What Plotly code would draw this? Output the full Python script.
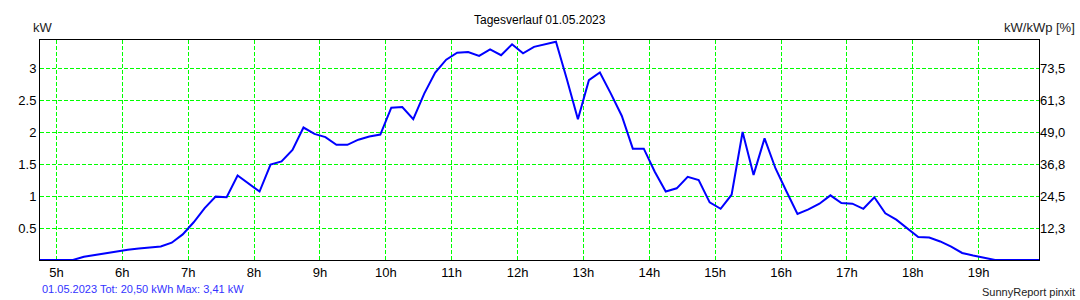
import plotly.graph_objects as go

# ---- data -------------------------------------------------------------
times = ["04:45", "04:55",
         "05:05", "05:15", "05:25", "05:35", "05:45", "05:55",
         "06:05", "06:15", "06:25", "06:35", "06:45", "06:55",
         "07:05", "07:15", "07:25", "07:35", "07:45", "07:55",
         "08:05", "08:15", "08:25", "08:35", "08:45", "08:55",
         "09:05", "09:15", "09:25", "09:35", "09:45", "09:55",
         "10:05", "10:15", "10:25", "10:35", "10:45", "10:55",
         "11:05", "11:15", "11:25", "11:35", "11:45", "11:55",
         "12:05", "12:15", "12:25", "12:35", "12:45", "12:55",
         "13:05", "13:15", "13:25", "13:35", "13:45", "13:55",
         "14:05", "14:15", "14:25", "14:35", "14:45", "14:55",
         "15:05", "15:15", "15:25", "15:35", "15:45", "15:55",
         "16:05", "16:15", "16:25", "16:35", "16:45", "16:55",
         "17:05", "17:15", "17:25", "17:35", "17:45", "17:55",
         "18:05", "18:15", "18:25", "18:35", "18:45", "18:55",
         "19:05", "19:15", "19:25", "19:35", "19:45", "19:55"]

power_kw = [0, 0,
            0, 0, 0.05, 0.08, 0.11, 0.13,
            0.16, 0.18, 0.20, 0.21, 0.27, 0.40,
            0.59, 0.81, 0.99, 0.98, 1.32, 1.20,
            1.07, 1.49, 1.54, 1.72, 2.07, 1.97,
            1.92, 1.80, 1.80, 1.88, 1.93, 1.96,
            2.38, 2.39, 2.20, 2.60, 2.93, 3.13,
            3.24, 3.25, 3.19, 3.29, 3.20, 3.37,
            3.23, 3.33, 3.37, 3.41, 2.82, 2.20,
            2.81, 2.93, 2.60, 2.25, 1.74, 1.74,
            1.38, 1.07, 1.12, 1.30, 1.25, 0.90,
            0.80, 1.02, 2.00, 1.33, 1.90, 1.43,
            1.07, 0.72, 0.79, 0.88, 1.01, 0.89,
            0.88, 0.80, 0.98, 0.73, 0.63, 0.49,
            0.36, 0.35, 0.29, 0.21, 0.11, 0.07,
            0.03, 0, 0, 0, 0, 0]

hour_ticks = [5, 6, 7, 8, 9, 10, 11, 12, 13, 14, 15, 16, 17, 18, 19]
hour_labels = ["5h", "6h", "7h", "8h", "9h", "10h", "11h", "12h", "13h",
               "14h", "15h", "16h", "17h", "18h", "19h"]
kw_ticks = [0.5, 1, 1.5, 2, 2.5, 3]
kw_labels = ["0.5", "1", "1.5", "2", "2.5", "3"]
pct_ticks = [12.25, 24.5, 36.75, 49.0, 61.25, 73.5]
pct_labels = ["12,3", "24,5", "36,8", "49,0", "61,3", "73,5"]
pct_per_kw = 24.5

x_range = [4.75, 19.9167]
y_range = [0, 3.4375]

title_text = "Tagesverlauf 01.05.2023"
footer_left = "01.05.2023 Tot: 20,50 kWh Max: 3,41 kW"
footer_right = "SunnyReport pinxit"

# ---- figure -----------------------------------------------------------
hours = [int(t[:2]) + int(t[3:]) / 60 for t in times]

FONT = "Arial, Liberation Sans, sans-serif"
W, H = 1080, 300
L, R, T, B = 40, 41, 40, 40
pw, ph = W - L - R, H - T - B


def px(x):
    return (x - L) / pw


def py(y):
    return (H - B - y) / ph


fig = go.Figure()
fig.add_trace(go.Scatter(x=hours, y=power_kw, mode="lines",
                         line=dict(color="#0000ff", width=2),
                         hoverinfo="skip", showlegend=False))
fig.add_trace(go.Scatter(x=[x_range[0]], y=[0], yaxis="y2", mode="markers",
                         marker=dict(opacity=0), hoverinfo="skip",
                         showlegend=False))

grid = dict(showgrid=True, gridcolor="#00ff00", gridwidth=1,
            griddash="4px,2px", zeroline=False, showline=True,
            linecolor="black", linewidth=1, ticks="",
            tickfont=dict(family=FONT, size=13, color="black"))

fig.update_layout(
    template="none",
    width=W, height=H,
    margin=dict(l=L, r=R, t=T, b=B, pad=0),
    paper_bgcolor="white", plot_bgcolor="white",
    font=dict(family=FONT, size=12, color="black"),
    xaxis=dict(range=x_range, tickvals=hour_ticks, ticktext=hour_labels,
               mirror=True, **grid),
    yaxis=dict(range=y_range, tickvals=kw_ticks, ticktext=kw_labels,
               mirror=True, **grid),
    yaxis2=dict(range=[y_range[0] * pct_per_kw, y_range[1] * pct_per_kw],
                tickvals=pct_ticks, ticktext=pct_labels, overlaying="y",
                side="right", showgrid=False, zeroline=False, showline=False,
                ticks="", tickfont=dict(family=FONT, size=13, color="black")),
)

ann = [
    dict(text=title_text, x=0.5, y=py(20), xanchor="center", yanchor="middle",
         font=dict(size=12, color="black")),
    dict(text="kW", x=px(31), y=py(27), xanchor="left", yanchor="middle",
         font=dict(size=13, color="#222222")),
    dict(text="kW/kWp [%]", x=px(1077), y=py(27), xanchor="right",
         yanchor="middle", font=dict(size=13, color="#222222")),
    dict(text=footer_left, x=px(40), y=py(289), xanchor="left",
         yanchor="middle", font=dict(size=11, color="#3333ff")),
    dict(text=footer_right, x=px(1077), y=py(292), xanchor="right",
         yanchor="middle", font=dict(size=11, color="#222222")),
]
for a in ann:
    fig.add_annotation(xref="paper", yref="paper", showarrow=False, **a)

fig.write_html("out.html")
